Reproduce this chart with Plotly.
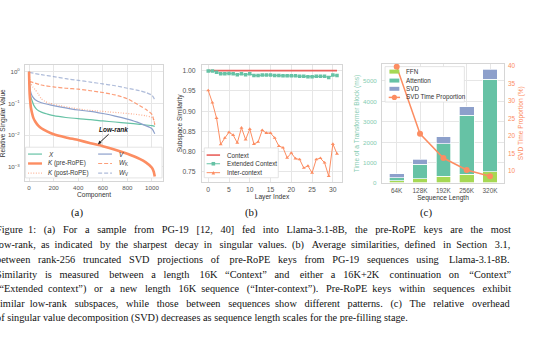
import plotly.graph_objects as go

# ---------------- Panel (a): relative singular values ----------------
x_X = [0, 3, 8, 15, 22, 40, 62, 100, 150, 200, 300, 400, 500, 600, 700, 800, 900, 1000, 1023]
v_X = [1.0, 0.5, 0.25, 0.16, 0.13, 0.085, 0.065, 0.053, 0.046, 0.041, 0.036, 0.033, 0.031, 0.028, 0.026, 0.024, 0.022, 0.020, 0.019]

x_Kpre = [0, 2, 5, 10, 15, 25, 35, 50, 75, 100, 150, 200, 300, 400, 500, 600, 700, 800, 900, 950, 1000, 1015, 1023]
v_Kpre = [1.0, 0.45, 0.2, 0.11, 0.075, 0.048, 0.035, 0.027, 0.02, 0.0165, 0.013, 0.0107, 0.0085, 0.007, 0.0056, 0.0045, 0.0035, 0.0026, 0.0018, 0.0014, 0.00095, 0.0007, 0.0005]

x_Kpost = [0, 5, 14, 30, 50, 75, 100, 130, 170, 250, 350, 450, 550, 650, 750, 850, 950, 1000, 1015, 1023]
v_Kpost = [1.0, 0.6, 0.43, 0.33, 0.27, 0.2, 0.14, 0.115, 0.1, 0.085, 0.072, 0.063, 0.058, 0.054, 0.05, 0.046, 0.041, 0.036, 0.03, 0.02]

x_V = [0, 3, 8, 16, 30, 50, 100, 170, 250, 400, 500, 600, 700, 800, 900, 1000, 1023]
v_V = [1.0, 0.5, 0.3, 0.21, 0.16, 0.13, 0.105, 0.09, 0.078, 0.062, 0.056, 0.048, 0.04, 0.032, 0.024, 0.016, 0.011]

x_WK = [0, 100, 200, 300, 400, 500, 600, 700, 800, 900, 950, 1000, 1023]
v_WK = [0.5, 0.38, 0.33, 0.3, 0.28, 0.25, 0.22, 0.185, 0.14, 0.085, 0.065, 0.045, 0.022]

x_WV = [0, 100, 200, 300, 400, 500, 600, 700, 800, 900, 950, 1000, 1023]
v_WV = [0.95, 0.8, 0.7, 0.6, 0.53, 0.47, 0.41, 0.36, 0.3, 0.25, 0.22, 0.18, 0.13]

comp_ticks = [0, 200, 400, 600, 800, 1000]
sv_ticks = [1e-3, 1e-2, 1e-1, 1]
sv_ticktext = ["10<sup>−3</sup>", "10<sup>−2</sup>", "10<sup>−1</sup>", "10<sup>0</sup>"]

# ---------------- Panel (b): subspace similarity ----------------
layers = list(range(32))
context = [1.0] * 32
extended = [0.999, 0.999, 0.996, 0.992, 0.992, 0.993, 0.992, 0.990, 0.992, 0.990, 0.992, 0.988,
            0.988, 0.989, 0.989, 0.989, 0.988, 0.988, 0.987, 0.987, 0.987, 0.987, 0.986, 0.986,
            0.985, 0.985, 0.986, 0.986, 0.986, 0.983, 0.989, 0.988]
inter = [0.951, 0.921, 0.883, 0.818, 0.834, 0.848, 0.841, 0.822, 0.859, 0.830, 0.856, 0.819,
         0.824, 0.853, 0.846, 0.846, 0.834, 0.814, 0.810, 0.785, 0.797, 0.783, 0.781, 0.760,
         0.765, 0.748, 0.781, 0.784, 0.773, 0.740, 0.819, 0.795]
layer_ticks = [0, 5, 10, 15, 20, 25, 30]
sim_ticks = [0.75, 0.80, 0.85, 0.90, 0.95, 1.00]

# ---------------- Panel (c): time breakdown ----------------
seq_len = ["64K", "128K", "192K", "256K", "320K"]
ffn = [105, 215, 320, 430, 535]
attention = [155, 700, 1605, 2887, 4527]
svd = [196, 245, 329, 407, 490]
svd_prop = [39.7, 20.6, 13.7, 10.3, 8.5]
time_ticks = [0, 1000, 2000, 3000, 4000, 5000]
prop_ticks = [10, 15, 20, 25, 30, 35, 40]

caption_lines = [
    "Figure 1: (a) For a sample from PG-19 [12, 40] fed into Llama-3.1-8B, the pre-RoPE keys are the most",
    "low-rank, as indicated by the sharpest decay in singular values. (b) Average similarities, defined in Section 3.1,",
    "between rank-256 truncated SVD projections of pre-RoPE keys from PG-19 sequences using Llama-3.1-8B.",
    "Similarity is measured between a length 16K “Context” and either a 16K+2K continuation on “Context”",
    "(“Extended context”) or a new length 16K sequence (“Inter-context”). Pre-RoPE keys within sequences exhibit",
    "similar low-rank subspaces, while those between sequences show different patterns. (c) The relative overhead",
    "of singular value decomposition (SVD) decreases as sequence length scales for the pre-filling stage.",
]
caption_justified = [True, True, True, True, True, True, False]

GREEN = "#66c2a5"
ORANGE = "#fc8d62"
BLUE = "#8da0cb"
LIME = "#a6d854"
RED = "#e9615c"
LGREEN = "#86ccb2"
GRID = "#e6e6e6"
BORDER = "#d6d6d6"
TICKC = "#555555"
SANS = "Liberation Sans, Arial, sans-serif"
SERIF = "Liberation Serif, Times New Roman, serif"
W, H = 540, 340

fig = go.Figure()

# Panel (a) traces
a_series = [
    ("X", x_X, v_X, GREEN, 1.2, "solid", 1.0),
    ("K (post-RoPE)", x_Kpost, v_Kpost, ORANGE, 1.2, "1px,1.6px", 0.65),
    ("V", x_V, v_V, BLUE, 1.2, "solid", 1.0),
    ("W_K", x_WK, v_WK, ORANGE, 1.2, "4px,2px", 0.85),
    ("W_V", x_WV, v_WV, BLUE, 1.2, "4px,2px", 0.7),
    ("K (pre-RoPE)", x_Kpre, v_Kpre, ORANGE, 2.6, "solid", 1.0),
]
for name, xs, ys, col, wd, dash, op in a_series:
    fig.add_trace(go.Scatter(x=xs, y=ys, mode="lines", name=name, showlegend=False,
                             line=dict(color=col, width=wd, dash=dash, shape="spline", smoothing=0.6),
                             opacity=op, xaxis="x", yaxis="y"))

# Panel (b) traces
fig.add_trace(go.Scatter(x=layers, y=context, mode="lines", name="Context", showlegend=False,
                         line=dict(color=RED, width=1.6), xaxis="x2", yaxis="y2"))
fig.add_trace(go.Scatter(x=layers, y=extended, mode="lines+markers", name="Extended Context", showlegend=False,
                         line=dict(color=GREEN, width=1), marker=dict(symbol="square", size=3.5, color=GREEN),
                         xaxis="x2", yaxis="y2"))
fig.add_trace(go.Scatter(x=layers, y=inter, mode="lines+markers", name="Inter-context", showlegend=False,
                         line=dict(color=ORANGE, width=1), marker=dict(symbol="triangle-up", size=3.5, color=ORANGE),
                         xaxis="x2", yaxis="y2"))

# Panel (c) traces: bars on (x3, y3); proportion line on a transparent twin subplot (x4, y4)
for name, vals, col in [("FFN", ffn, LIME), ("Attention", attention, GREEN), ("SVD", svd, BLUE)]:
    fig.add_trace(go.Bar(x=seq_len, y=vals, name=name, showlegend=False, width=0.63,
                         marker=dict(color=col, line=dict(color="white", width=0.7)),
                         xaxis="x3", yaxis="y3"))
fig.add_trace(go.Scatter(x=seq_len, y=svd_prop, mode="lines+markers", name="SVD Time Proportion",
                         showlegend=False, line=dict(color=ORANGE, width=1.5),
                         marker=dict(symbol="circle", size=6, color=ORANGE), xaxis="x4", yaxis="y4"))


def px_dom(x0, x1):
    return [x0 / W, x1 / W]


def py_dom(top, bottom):
    return [1 - bottom / H, 1 - top / H]


def axis_common(tsize, tcolor=TICKC, mirror=True):
    return dict(showgrid=True, gridcolor=GRID, gridwidth=0.8, showline=True, linecolor=BORDER,
                linewidth=1, mirror=mirror, ticks="", zeroline=False, showticklabels=True,
                tickfont=dict(family=SANS, size=tsize, color=tcolor))


TT = 6.6
title_font = dict(family=SANS, size=TT, color="#333333")

rng_a_x = [-33, 1090]
rng_a_y = [-3.44, 0.22]
rng_b_x = [-1.5, 32.2]
rng_b_y = [0.7255, 1.0147]
rng_c_x = [-0.63, 4.6]
rng_c_y = [0, 5830]
rng_c_y2 = [6.6, 40.6]
dom_c_x = px_dom(382, 504)
dom_c_y = py_dom(62, 182)

fig.update_layout(
    width=W, height=H, margin=dict(l=0, r=0, t=0, b=0),
    paper_bgcolor="white", plot_bgcolor="rgba(0,0,0,0)", barmode="stack", bargap=0.37,
    xaxis=dict(domain=px_dom(25, 163), range=rng_a_x, tickvals=comp_ticks, anchor="y",
               ticklabelstandoff=1,
               title=dict(text="Component", font=title_font, standoff=1), **axis_common(6.2)),
    yaxis=dict(domain=py_dom(63, 180), type="log", range=rng_a_y, tickvals=sv_ticks,
               ticktext=sv_ticktext, anchor="x", ticklabelstandoff=3, **axis_common(6.2)),
    xaxis2=dict(domain=px_dom(202, 342), range=rng_b_x, tickvals=layer_ticks, anchor="y2",
                ticklabelstandoff=1,
                title=dict(text="Layer Index", font=title_font, standoff=1), **axis_common(6.8)),
    yaxis2=dict(domain=py_dom(63, 181), range=rng_b_y, tickvals=sim_ticks, tickformat=".2f",
                anchor="x2", ticklabelstandoff=4, **axis_common(6.8)),
    xaxis3=dict(domain=dom_c_x, type="category", range=rng_c_x, anchor="y3",
                ticklabelstandoff=1,
                title=dict(text="Sequence Length", font=title_font, standoff=1), **axis_common(6.4)),
    yaxis3=dict(domain=dom_c_y, range=rng_c_y, tickvals=time_ticks, anchor="x3", side="left",
                **{**axis_common(6.2, LGREEN), "showticklabels": False}),
    xaxis4=dict(domain=dom_c_x, type="category", range=rng_c_x, anchor="y4", visible=False),
    yaxis4=dict(domain=dom_c_y, side="right", range=rng_c_y2, tickvals=prop_ticks, anchor="x4",
                showgrid=False, showline=False, ticks="", zeroline=False, ticklabelstandoff=3,
                tickfont=dict(family=SANS, size=6.4, color=ORANGE)),
)

ann = []
# left tick labels of panel (c), placed on the y3 scale
for v in time_ticks:
    ann.append(dict(text=str(v), x=dom_c_x[0] - 3 / W, y=v, xref="paper", yref="y3", showarrow=False,
                    xanchor="right", yanchor="middle", font=dict(family=SANS, size=6.2, color=LGREEN)))

# y-axis titles
for text, cx, color in [("Relative Singular Value", 3, "#333333"), ("Subspace Similarity", 180, "#333333"),
                        ("Time of a Transformer Block (ms)", 357, LGREEN),
                        ("SVD Time Proportion (%)", 521, ORANGE)]:
    ann.append(dict(text=text, x=cx / W, y=1 - 122 / H, xref="paper", yref="paper", textangle=-90,
                    showarrow=False, font=dict(family=SANS, size=TT, color=color),
                    xanchor="center", yanchor="middle"))

# Low-rank callout
ann.append(dict(text="<b><i>Low-rank</i></b>", x=561, y=-2.284, xref="x", yref="y", showarrow=True,
                ax=16, ay=-15, arrowhead=2, arrowsize=0.7, arrowwidth=1, arrowcolor="#222222",
                font=dict(family=SANS, size=6.5, color="#111111")))

CAP_FS = 10.3

# subfigure labels
for lab, cx in [("(a)", 77), ("(b)", 251), ("(c)", 426)]:
    ann.append(dict(text=lab, x=cx / W, y=1 - 212 / H, xref="paper", yref="paper", showarrow=False,
                    font=dict(family=SERIF, size=10.8, color="#111111"), xanchor="center", yanchor="middle"))

# approximate serif advance widths (per 1000 em), used only to justify the caption lines
SERIF_W = {" ": 250, ",": 250, ".": 250, ":": 278, "-": 333, "(": 333, ")": 333, "[": 333, "]": 333,
           "+": 564, "“": 444, "”": 444}
for ch, wv in zip("ABCDEFGHIJKLMNOPQRSTUVWXYZ",
                  [722, 667, 667, 722, 611, 556, 722, 722, 333, 389, 722, 611, 889, 722, 722, 556, 722,
                   667, 556, 611, 722, 722, 944, 722, 722, 611]):
    SERIF_W[ch] = wv
for ch, wv in zip("abcdefghijklmnopqrstuvwxyz",
                  [444, 500, 444, 500, 444, 333, 500, 500, 278, 278, 500, 278, 778, 500, 500, 500, 500,
                   333, 389, 278, 500, 500, 722, 500, 500, 444]):
    SERIF_W[ch] = wv
for ch in "0123456789":
    SERIF_W[ch] = 500

LINE_W = 515  # justified line width in px


def justify(line, fs):
    natural = sum(SERIF_W.get(c, 500) for c in line) / 1000 * fs
    n = max(0, round((LINE_W - natural) / (0.25 * fs)))
    words = line.split(" ")
    gaps = len(words) - 1
    out = words[0]
    for i in range(gaps):
        cnt = (i + 1) * n // gaps - i * n // gaps
        out += " " + "\u00a0" * cnt + words[i + 1]
    return out


# caption
for i, line in enumerate(caption_lines):
    text = justify(line, CAP_FS) if caption_justified[i] else line
    ann.append(dict(text=text, x=-6 / W, y=1 - (229.5 + 14.8 * i) / H,
                    xref="paper", yref="paper", showarrow=False,
                    font=dict(family=SERIF, size=CAP_FS, color="#111111"),
                    xanchor="left", yanchor="middle"))

shapes = []


def d(frac, rng, log=False):
    v = rng[0] + frac * (rng[1] - rng[0])
    return 10 ** v if log else v


def legend_box(xr, yr, rx, ry, fx0, fx1, fy0, fy1, logy=False):
    shapes.append(dict(type="rect", xref=xr, yref=yr, x0=d(fx0, rx), x1=d(fx1, rx),
                       y0=d(fy0, ry, logy), y1=d(fy1, ry, logy),
                       fillcolor="white", line=dict(color="#dddddd", width=0.8), layer="between"))


LEGF = dict(family=SANS, size=6.3, color="#333333")


def legend_text(xr, yr, x, y, text):
    ann.append(dict(text=text, x=x, y=y, xref=xr, yref=yr, showarrow=False, xanchor="left",
                    yanchor="middle", font=LEGF))


def legend_line(xr, yr, x0, x1, y, color, width, dash, opacity=1.0):
    shapes.append(dict(type="line", xref=xr, yref=yr, x0=x0, x1=x1, y0=y, y1=y,
                       line=dict(color=color, width=width, dash=dash), opacity=opacity, layer="above"))


# Legend (a)
legend_box("x", "y", rng_a_x, rng_a_y, 0.004, 0.993, 0.026, 0.29, logy=True)
a_leg = [
    ("<i>X</i>", GREEN, 1.2, "solid", 1.0, 0, 0.231),
    ("<i>K</i> (pre-RoPE)", ORANGE, 2.4, "solid", 1.0, 0, 0.15),
    ("<i>K</i> (post-RoPE)", ORANGE, 1.2, "1px,1.6px", 0.65, 0, 0.068),
    ("<i>V</i>", BLUE, 1.2, "solid", 1.0, 1, 0.231),
    ("<i>W</i><sub>K</sub>", ORANGE, 1.2, "4px,2px", 0.85, 1, 0.15),
    ("<i>W</i><sub>V</sub>", BLUE, 1.2, "4px,2px", 0.7, 1, 0.068),
]
for text, col, wd, dash, op, colidx, yy in a_leg:
    sx0, sx1, tx = [(0.022, 0.123, 0.15), (0.53, 0.63, 0.665)][colidx]
    legend_line("x domain", "y domain", sx0, sx1, yy, col, wd, dash, op)
    legend_text("x domain", "y domain", tx, yy, text)

# Legend (b)
legend_box("x2", "y2", rng_b_x, rng_b_y, 0.016, 0.545, 0.036, 0.29)
b_leg = [("Context", RED, 1.6, None, 0.229), ("Extended Context", GREEN, 1, "square", 0.155),
         ("Inter-context", ORANGE, 1, "triangle", 0.079)]
for text, col, wd, mk, yy in b_leg:
    legend_line("x2 domain", "y2 domain", 0.033, 0.129, yy, col, wd, "solid")
    cx = 0.081
    dx, dy = 1.8 / 140, 1.8 / 118
    if mk == "square":
        shapes.append(dict(type="rect", xref="x2 domain", yref="y2 domain", x0=cx - dx, x1=cx + dx,
                           y0=yy - dy, y1=yy + dy, fillcolor=col, line=dict(width=0), layer="above"))
    elif mk == "triangle":
        shapes.append(dict(type="path", xref="x2 domain", yref="y2 domain",
                           path=f"M {cx - dx} {yy - dy} L {cx + dx} {yy - dy} L {cx} {yy + dy} Z",
                           fillcolor=col, line=dict(width=0), layer="above"))
    legend_text("x2 domain", "y2 domain", 0.164, yy, text)

# Legend (c)
legend_box("x3", "y3", rng_c_x, rng_c_y, 0.025, 0.675, 0.678, 0.975)
c_leg = [("FFN", LIME, 0.933), ("Attention", GREEN, 0.858), ("SVD", BLUE, 0.789)]
for text, col, yy in c_leg:
    shapes.append(dict(type="rect", xref="x3 domain", yref="y3 domain", x0=0.061, x1=0.142,
                       y0=yy - 2 / 120, y1=yy + 2 / 120, fillcolor=col, line=dict(width=0), layer="above"))
    legend_text("x3 domain", "y3 domain", 0.183, yy, text)
legend_line("x3 domain", "y3 domain", 0.055, 0.148, 0.717, ORANGE, 1.5, "solid")
shapes.append(dict(type="circle", xref="x3 domain", yref="y3 domain", x0=0.1015 - 2.6 / 122,
                   x1=0.1015 + 2.6 / 122, y0=0.717 - 2.6 / 120, y1=0.717 + 2.6 / 120,
                   fillcolor=ORANGE, line=dict(width=0), layer="above"))
legend_text("x3 domain", "y3 domain", 0.183, 0.717, "SVD Time Proportion")

fig.update_layout(annotations=ann, shapes=shapes)
fig.write_html("out.html")
